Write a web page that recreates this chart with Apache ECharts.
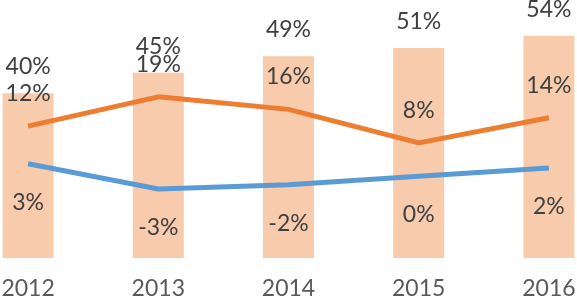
<!DOCTYPE html>
<html>
<head>
<meta charset="utf-8">
<script src="https://cdn.jsdelivr.net/npm/echarts@6/dist/echarts.min.js"></script>
<style>html,body{margin:0;padding:0;background:#fff;}#c{width:577px;height:296px;}</style>
</head>
<body>
<div id="c"></div>
<script>
var categories = ['2012', '2013', '2014', '2015', '2016'];
var barValues = [40, 45, 49, 51, 54];
var orangeValues = [12, 19, 16, 8, 14];
var blueValues = [3, -3, -2, 0, 2];

var FONT = 'Lato';
var TXT = '#404040';
var chart = echarts.init(document.getElementById('c'), null, {renderer: 'canvas'});
chart.setOption({
  animation: false,
  backgroundColor: '#ffffff',
  grid: {left: -37, right: -37, top: 11, bottom: 38, containLabel: false, outerBoundsMode: 'none'},
  xAxis: {
    type: 'category',
    data: categories,
    axisLine: {show: false},
    axisTick: {show: false},
    axisLabel: {color: '#595959', fontFamily: FONT, fontSize: 23, margin: 19, hideOverlap: false}
  },
  yAxis: [
    {type: 'value', min: 0, max: 60, show: false, splitLine: {show: false}},
    {type: 'value', min: -19.5, max: 39.5, show: false, splitLine: {show: false}}
  ],
  series: [
    {
      type: 'bar', data: barValues, yAxisIndex: 0, barWidth: 51,
      itemStyle: {color: '#F8CBAD'},
      label: {show: true, position: 'top', distance: 15, formatter: '{c}%',
        color: TXT, fontFamily: FONT, fontSize: 23}
    },
    {
      type: 'line', data: orangeValues, yAxisIndex: 1, symbol: 'circle', symbolSize: 0.1, showSymbol: true,
      lineStyle: {color: '#ED7D31', width: 5}, itemStyle: {color: '#ED7D31'},
      label: {show: true, position: 'top', distance: 21, formatter: '{c}%',
        color: TXT, fontFamily: FONT, fontSize: 23}
    },
    {
      type: 'line', data: blueValues, yAxisIndex: 1, symbol: 'circle', symbolSize: 0.1, showSymbol: true,
      lineStyle: {color: '#5B9BD5', width: 5}, itemStyle: {color: '#5B9BD5'},
      label: {show: true, position: 'bottom', distance: 27, formatter: '{c}%',
        color: TXT, fontFamily: FONT, fontSize: 23}
    }
  ]
});
</script>
</body>
</html>
